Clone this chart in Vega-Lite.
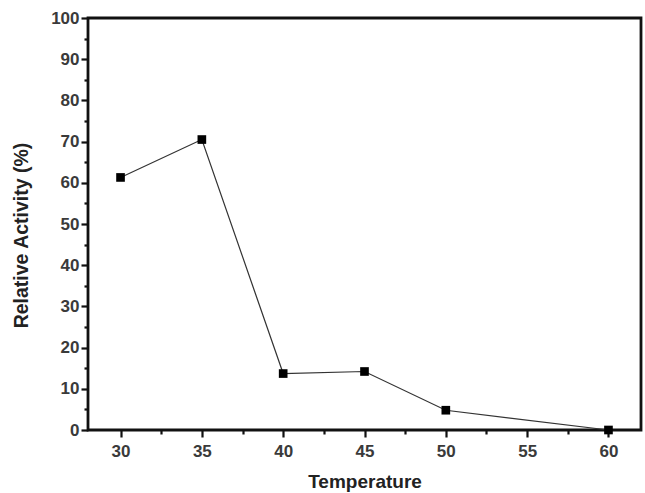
{
  "$schema": "https://vega.github.io/schema/vega-lite/v6.json",
  "autosize": "none",
  "width": 553,
  "height": 412,
  "padding": {"left": 88, "top": 18, "right": 4, "bottom": 63},
  "background": "white",
  "config": {
    "view": {"stroke": "#111", "strokeWidth": 2.8},
    "font": "Liberation Sans"
  },
  "data": {
    "values": [
      {"temperature": 30, "activity": 61.3},
      {"temperature": 35, "activity": 70.5},
      {"temperature": 40, "activity": 13.7},
      {"temperature": 45, "activity": 14.2},
      {"temperature": 50, "activity": 4.8},
      {"temperature": 60, "activity": 0}
    ]
  },
  "encoding": {
    "x": {
      "field": "temperature",
      "type": "quantitative",
      "scale": {"domain": [28, 62], "nice": false, "zero": false},
      "axis": {
        "title": "Temperature",
        "values": [30, 32.5, 35, 37.5, 40, 42.5, 45, 47.5, 50, 52.5, 55, 57.5, 60],
        "labelExpr": "datum.value % 5 === 0 ? datum.label : ''",
        "tickSize": {"condition": {"test": "datum.value % 5 === 0", "value": 7}, "value": 4},
        "tickWidth": 2.2,
        "tickColor": "#111",
        "domain": false,
        "grid": false,
        "labelFont": "Liberation Sans",
        "labelFontSize": 17,
        "labelFontWeight": "bold",
        "labelColor": "#3a3a3a",
        "labelPadding": 6,
        "titleFont": "Liberation Sans",
        "titleFontSize": 19,
        "titleFontWeight": "bold",
        "titleColor": "#222",
        "titlePadding": 13
      }
    },
    "y": {
      "field": "activity",
      "type": "quantitative",
      "scale": {"domain": [0, 100], "nice": false},
      "axis": {
        "title": "Relative Activity (%)",
        "values": [0, 5, 10, 15, 20, 25, 30, 35, 40, 45, 50, 55, 60, 65, 70, 75, 80, 85, 90, 95, 100],
        "labelExpr": "datum.value % 10 === 0 ? datum.label : ''",
        "tickSize": {"condition": {"test": "datum.value % 10 === 0", "value": 7}, "value": 4},
        "tickWidth": 2.2,
        "tickColor": "#111",
        "domain": false,
        "grid": false,
        "labelFont": "Liberation Sans",
        "labelFontSize": 17,
        "labelFontWeight": "bold",
        "labelColor": "#3a3a3a",
        "labelPadding": 2,
        "titleFont": "Liberation Sans",
        "titleFontSize": 19.5,
        "titleFontWeight": "bold",
        "titleColor": "#222",
        "titlePadding": 19,
        "titleY": 217
      }
    }
  },
  "layer": [
    {"mark": {"type": "line", "color": "#333", "strokeWidth": 1.2}},
    {"mark": {"type": "point", "shape": "square", "filled": true, "color": "#000", "opacity": 1, "size": 75}}
  ]
}
